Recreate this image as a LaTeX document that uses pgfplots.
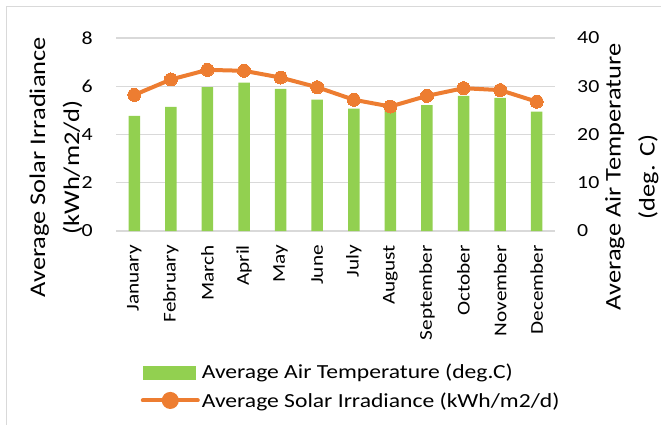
\documentclass[border=0pt]{standalone}
\usepackage{pgfplots}
\pgfplotsset{compat=1.18}
\usepackage{fontspec}
\setmainfont[FakeStretch=1.18]{Carlito}

\definecolor{bargreen}{HTML}{92D050}
\definecolor{lineorange}{HTML}{ED7D31}
\definecolor{gridgray}{HTML}{D9D9D9}

\newcommand{\tickfont}{\fontsize{18.5}{22}\selectfont}
\newcommand{\monthfont}{\fontsize{18}{22}\selectfont}
\newcommand{\titlefont}{\fontsize{22.4}{34}\selectfont}
\newcommand{\legfont}{\fontsize{20}{24}\selectfont}

\begin{document}
\begin{tikzpicture}[x=1pt,y=1pt]
\useasboundingbox (0,0) rectangle (661,424);
\draw[gridgray, line width=1pt] (6.5,-5) rectangle (670,417);

% left axis: monthly bars
\begin{axis}[
  at={(116pt,193pt)}, anchor=south west,
  scale only axis, width=439pt, height=193pt,
  xmin=-0.5, xmax=11.5, ymin=0, ymax=8,
  xtick={0,...,11},
  xticklabels={January,February,March,April,May,June,July,August,September,October,November,December},
  ytick={0,2,4,6,8},
  axis line style={draw=none}, major tick length=0pt,
  ymajorgrids, grid style={gridgray, line width=1.4pt},
  /pgf/number format/assume math mode=true,
  xticklabel shift=14pt,
  xticklabel style={rotate=90, anchor=east, inner sep=0pt, font=\monthfont},
  yticklabel style={anchor=east, inner sep=0pt, xshift=-23pt, font=\tickfont},
  ylabel={Average Solar Irradiance\\(kWh/m2/d)},
  ylabel style={align=center, at={(axis description cs:-0.137,0.33)}, anchor=center, rotate=0, font=\titlefont},
  clip=false,
]
\addplot[ybar, bar width=11.5pt, fill=bargreen, draw=none] coordinates {
  (0,4.77) (1,5.15) (2,5.96) (3,6.15) (4,5.89) (5,5.45)
  (6,5.07) (7,5.02) (8,5.22) (9,5.60) (10,5.52) (11,4.95)
};
\end{axis}

% right axis: monthly line with markers
\begin{axis}[
  at={(116pt,193pt)}, anchor=south west,
  scale only axis, width=439pt, height=193pt,
  xmin=-0.5, xmax=11.5, ymin=0, ymax=40,
  xtick=\empty,
  axis y line*=right,
  axis line style={draw=none}, major tick length=0pt,
  ytick={0,10,20,30,40},
  /pgf/number format/assume math mode=true,
  yticklabel style={anchor=west, inner sep=0pt, xshift=22pt, font=\tickfont},
  ylabel={Average Air Temperature\\(deg. C)},
  ylabel style={align=center, at={(axis description cs:1.175,0.28)}, anchor=center, rotate=0, font=\titlefont},
  clip=false,
  legend style={at={(rel axis cs:0.056,-0.679)}, anchor=north west, draw=none, fill=none,
    inner sep=0pt, font=\legfont, row sep=8pt,
    /tikz/every even column/.style={column sep=4pt}},
  legend cell align=left,
]
\addlegendimage{legend image code/.code={\fill[bargreen] (0pt,-6.5pt) rectangle (52pt,6.5pt);}}
\addlegendentry{Average Air Temperature (deg.C)}
\addplot[lineorange, line width=4pt, mark=*, mark size=6.5pt, mark options={fill=lineorange, draw=lineorange, line width=0pt},
  legend image code/.code={\draw[lineorange, line width=4pt, line cap=round] (0pt,0pt) -- (55pt,0pt);
    \fill[lineorange] (27.5pt,0pt) circle (6.5pt);}]
coordinates {
  (0,28.2) (1,31.4) (2,33.4) (3,33.2) (4,31.8) (5,29.8)
  (6,27.2) (7,25.8) (8,28.0) (9,29.6) (10,29.2) (11,26.8)
};
\addlegendentry{Average Solar Irradiance (kWh/m2/d)}
\end{axis}
\end{tikzpicture}
\end{document}
